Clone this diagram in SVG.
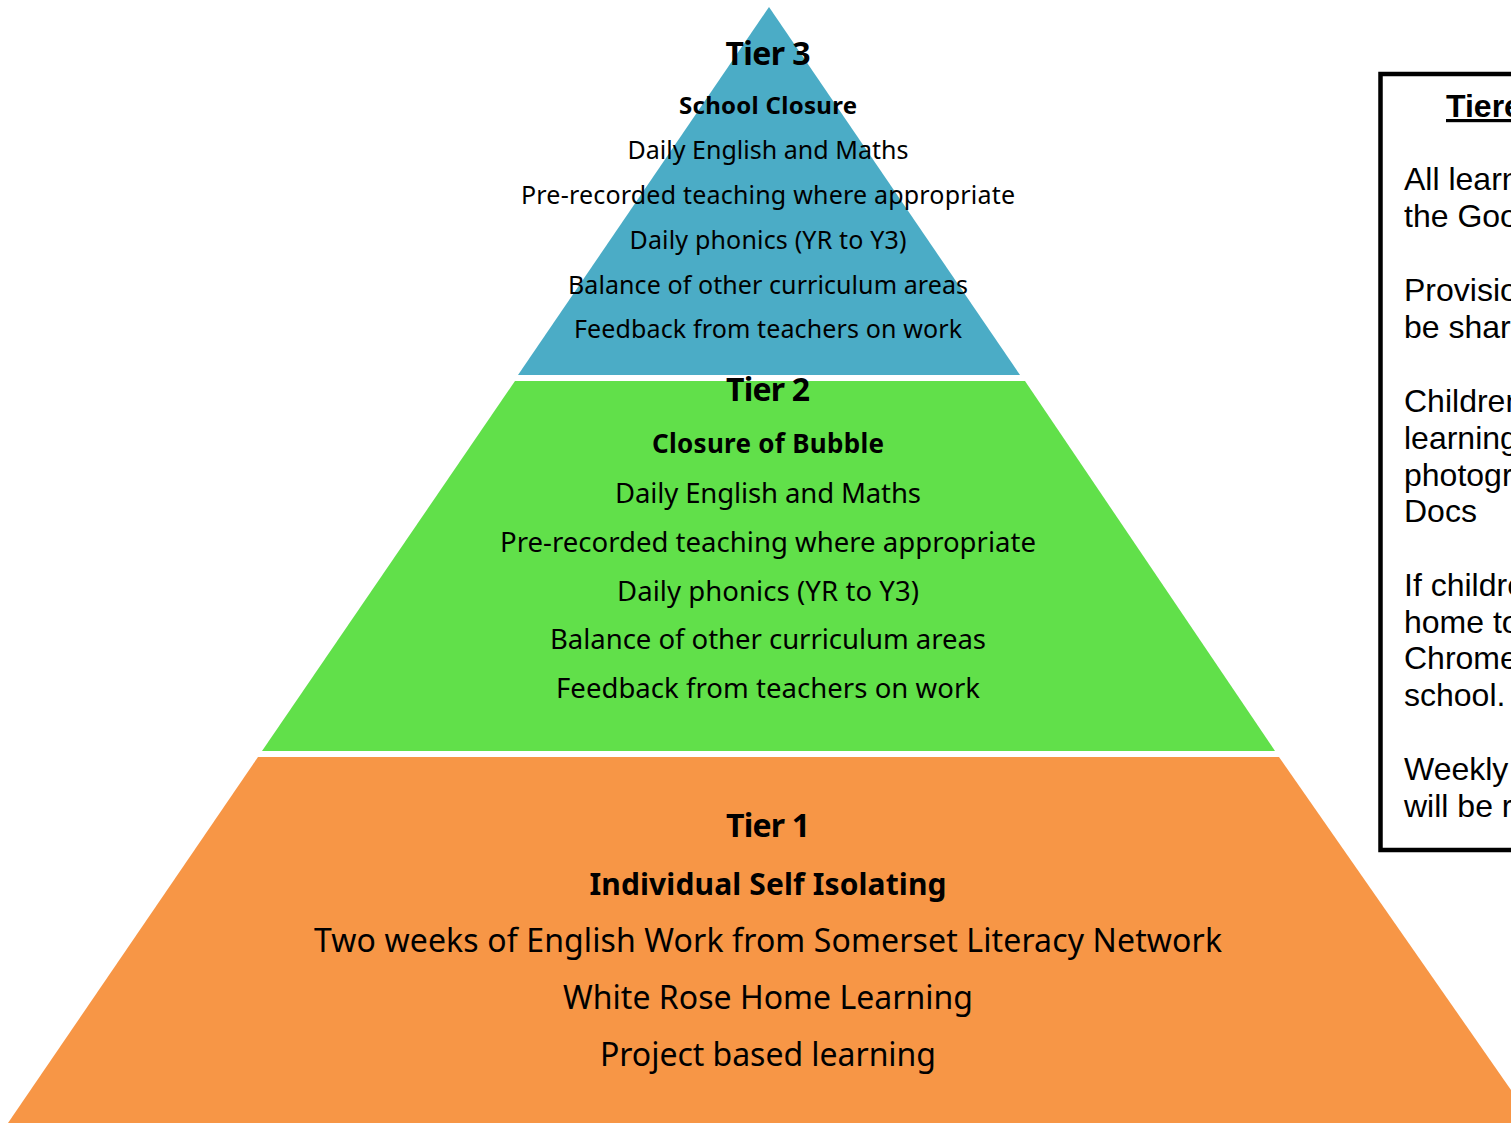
<svg xmlns="http://www.w3.org/2000/svg" width="1511" height="1123" viewBox="0 0 1511 1123">
<style>
  .pt { font-family: "Noto Sans", "Open Sans", sans-serif; fill: #000; text-anchor: middle; }
  .b { font-weight: bold; }
  .bx { font-family: "Liberation Sans", Arial, sans-serif; font-size: 32px; fill: #000; }
  .t3 { font-size: 25px; }
  .t2 { font-size: 27.5px; }
  .t1 { font-size: 32px; }
</style>
<rect x="0" y="0" width="1511" height="1123" fill="#ffffff"/>

<g id="tier3">
  <polygon points="769,7 1020,375 518,375" fill="#4BACC6"/>
  <text class="pt b" x="768" y="65" font-size="32" textLength="85">Tier 3</text>
  <text class="pt b" x="768" y="114" font-size="24" textLength="178">School Closure</text>
  <text class="pt t3" x="768" y="159" textLength="281">Daily English and Maths</text>
  <text class="pt t3" x="768" y="204" textLength="494">Pre-recorded teaching where appropriate</text>
  <text class="pt t3" x="768" y="249" textLength="277">Daily phonics (YR to Y3)</text>
  <text class="pt t3" x="768" y="294" textLength="400">Balance of other curriculum areas</text>
  <text class="pt t3" x="768" y="338" textLength="388">Feedback from teachers on work</text>
</g>

<g id="tier2">
  <polygon points="515,381 1025,381 1275,751 262,751" fill="#61E04A"/>
  <text class="pt b" x="768" y="401" font-size="32" textLength="84">Tier 2</text>
  <text class="pt b" x="768" y="453" font-size="26" textLength="232">Closure of Bubble</text>
  <text class="pt t2" x="768" y="503" textLength="306">Daily English and Maths</text>
  <text class="pt t2" x="768" y="552" textLength="536">Pre-recorded teaching where appropriate</text>
  <text class="pt t2" x="768" y="601" textLength="302">Daily phonics (YR to Y3)</text>
  <text class="pt t2" x="768" y="649" textLength="436">Balance of other curriculum areas</text>
  <text class="pt t2" x="768" y="698" textLength="424">Feedback from teachers on work</text>
</g>

<g id="tier1">
  <polygon points="258,757 1279,757 1534,1123 8,1123" fill="#F79646"/>
  <text class="pt b" x="768" y="837" font-size="32" textLength="84">Tier 1</text>
  <text class="pt b" x="768" y="895" font-size="30" textLength="357">Individual Self Isolating</text>
  <text class="pt t1" x="768" y="952" textLength="908">Two weeks of English Work from Somerset Literacy Network</text>
  <text class="pt t1" x="768" y="1009" textLength="410">White Rose Home Learning</text>
  <text class="pt t1" x="768" y="1066" textLength="336">Project based learning</text>
</g>

<g id="info-box">
  <rect x="1380.5" y="74" width="160" height="776" fill="#ffffff" stroke="#000" stroke-width="4.5"/>
  <text class="bx" x="1446" y="117" font-size="29" font-weight="bold" text-decoration="underline">Tiere</text>
  <text class="bx" x="1404" y="190">All learn</text>
  <text class="bx" x="1404" y="227">the Goo</text>
  <text class="bx" x="1404" y="301">Provisio</text>
  <text class="bx" x="1404" y="338">be shar</text>
  <text class="bx" x="1404" y="412">Children</text>
  <text class="bx" x="1404" y="449">learning</text>
  <text class="bx" x="1404" y="486">photogr</text>
  <text class="bx" x="1404" y="522">Docs</text>
  <text class="bx" x="1404" y="596">If childre</text>
  <text class="bx" x="1404" y="633">home to</text>
  <text class="bx" x="1404" y="669">Chrome</text>
  <text class="bx" x="1404" y="706">school.</text>
  <text class="bx" x="1404" y="780">Weekly</text>
  <text class="bx" x="1404" y="817">will be r</text>
</g>
</svg>
